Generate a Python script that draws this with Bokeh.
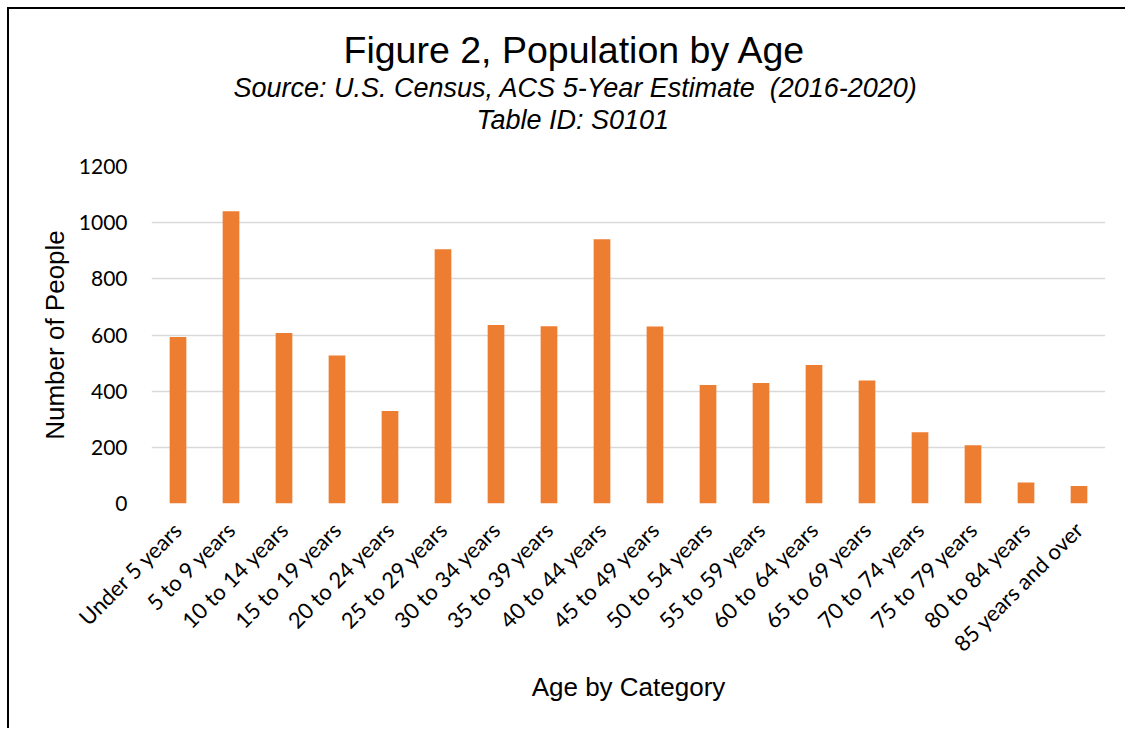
from bokeh.plotting import figure
from bokeh.models import FixedTicker, Range1d, Title
from bokeh.embed import file_html
from bokeh.resources import INLINE
import math

categories = ["Under 5 years", "5 to 9 years", "10 to 14 years", "15 to 19 years",
              "20 to 24 years", "25 to 29 years", "30 to 34 years", "35 to 39 years",
              "40 to 44 years", "45 to 49 years", "50 to 54 years", "55 to 59 years",
              "60 to 64 years", "65 to 69 years", "70 to 74 years", "75 to 79 years",
              "80 to 84 years", "85 years and over"]
population = [593, 1041, 607, 527, 329, 905, 636, 631, 941, 630,
              422, 429, 493, 438, 254, 207, 75, 62]
y_ticks = [0, 200, 400, 600, 800, 1000, 1200]

title_text = "Figure 2, Population by Age"
subtitle_text = "Source: U.S. Census, ACS 5-Year Estimate \u00a0(2016-2020)"
table_text = "Table ID: S0101"

p = figure(x_range=categories, y_range=Range1d(0, 1200),
           frame_width=954, frame_height=337,
           min_border_left=142, min_border_right=20,
           min_border_top=157, min_border_bottom=225,
           output_backend="svg", toolbar_location=None)
p.title.text = ""

p.vbar(x=categories, top=population, width=0.315,
       fill_color="#ED7D31", line_color=None)

p.outline_line_color = None
p.xgrid.grid_line_color = None
p.ygrid.grid_line_color = "#d9d9d9"
p.ygrid.grid_line_width = 1.5
p.yaxis.ticker = FixedTicker(ticks=y_ticks)

for ax in (p.xaxis[0], p.yaxis[0]):
    ax.axis_line_color = None
    ax.major_tick_line_color = None
    ax.minor_tick_line_color = None
    ax.major_tick_in = 0
    ax.major_tick_out = 0
    ax.major_label_text_font = "Lato"
    ax.major_label_text_color = "#000000"
    ax.axis_label_text_font = "Liberation Sans"
    ax.axis_label_text_font_size = "26px"
    ax.axis_label_text_font_style = "normal"
    ax.axis_label_text_color = "#000000"

p.yaxis.major_label_text_font_size = "21px"
p.yaxis.major_label_standoff = 24
p.yaxis.axis_label = "Number of People"
p.yaxis.axis_label_standoff = 6

p.xaxis.major_label_text_font_size = "22px"
p.xaxis.major_label_orientation = math.pi / 4
p.xaxis.major_label_standoff = 22
p.xaxis.axis_label = "Age by Category"
p.xaxis.axis_label_standoff = 3

# titles stacked above the frame (first added = closest to the frame)
spacer = Title(text=" ", text_font_size="26px", standoff=0)
t_table = Title(text=table_text, align="left", offset=325, standoff=0,
                text_font="Liberation Sans", text_font_size="27px",
                text_font_style="italic", text_color="#000000")
t_sub = Title(text=subtitle_text, align="left", offset=82, standoff=0,
              text_font="Liberation Sans", text_font_size="27px",
              text_font_style="italic", text_color="#000000")
t_main = Title(text=title_text, align="left", offset=192, standoff=0,
               text_font="Liberation Sans", text_font_size="37.5px",
               text_font_style="normal", text_color="#000000")
for t in (spacer, t_table, t_sub, t_main):
    p.add_layout(t, "above")

p.styles = {"margin-left": "7px", "margin-top": "7px",
            "border-left": "2px solid #000000", "border-top": "2px solid #000000"}

open("out.html", "w").write(file_html(p, INLINE))
